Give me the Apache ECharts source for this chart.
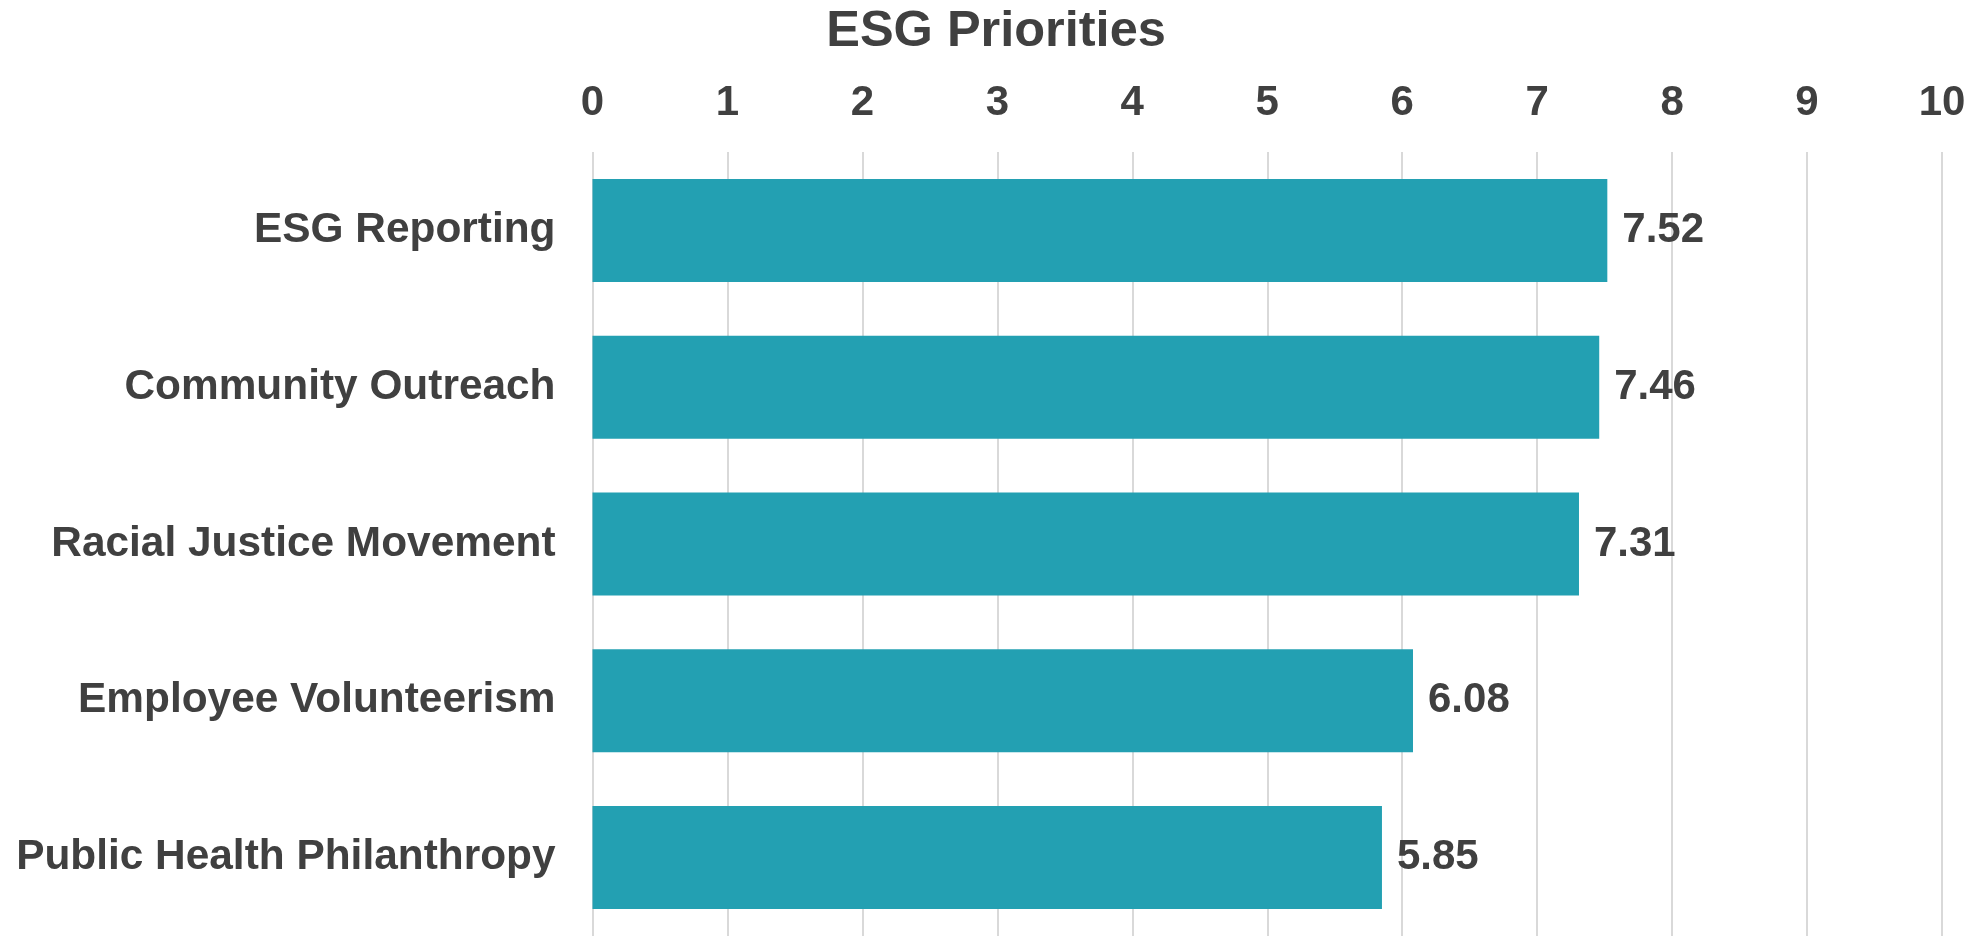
<!DOCTYPE html>
<html>
<head>
<meta charset="utf-8">
<script src="https://cdn.jsdelivr.net/npm/echarts@6/dist/echarts.min.js"></script>
<style>
html,body{margin:0;padding:0;background:#fff;}
#chart{width:1972px;height:936px;}
</style>
</head>
<body>
<div id="chart"></div>
<script>
const titleText = 'ESG Priorities';
const categories = ['ESG Reporting', 'Community Outreach', 'Racial Justice Movement', 'Employee Volunteerism', 'Public Health Philanthropy'];
const values = [7.52, 7.46, 7.31, 6.08, 5.85];
const axisMin = 0;
const axisMax = 10;
const axisInterval = 1;

const FONT = "'Liberation Sans', Arial, sans-serif";
const TEXT = '#404040';

const chart = echarts.init(document.getElementById('chart'), null, {renderer: 'canvas'});
chart.setOption({
  animation: false,
  backgroundColor: '#ffffff',
  title: {
    text: titleText,
    left: 991,
    textAlign: 'center',
    top: 2,
    textStyle: {fontFamily: FONT, fontSize: 50.5, fontWeight: 'bold', color: TEXT}
  },
  grid: {left: 592.5, right: 30, top: 152, bottom: 0, containLabel: false},
  xAxis: {
    type: 'value',
    position: 'top',
    min: axisMin,
    max: axisMax,
    interval: axisInterval,
    axisLine: {show: false},
    axisTick: {show: false},
    axisLabel: {fontFamily: FONT, fontSize: 42, fontWeight: 'bold', color: TEXT, margin: 28},
    splitLine: {show: true, lineStyle: {color: '#D9D9D9', width: 2}}
  },
  yAxis: {
    type: 'category',
    data: categories,
    inverse: true,
    axisLine: {show: false},
    axisTick: {show: false},
    axisLabel: {fontFamily: FONT, fontSize: 42.4, fontWeight: 'bold', color: TEXT, margin: 37}
  },
  series: [{
    type: 'bar',
    data: values,
    barWidth: 103,
    itemStyle: {color: '#23A0B2'},
    label: {
      show: true,
      position: 'right',
      distance: 15,
      fontFamily: FONT,
      fontSize: 42,
      fontWeight: 'bold',
      color: TEXT,
      padding: [3, 0, 0, 0],
      formatter: p => p.value.toFixed(2)
    }
  }]
});
</script>
</body>
</html>
